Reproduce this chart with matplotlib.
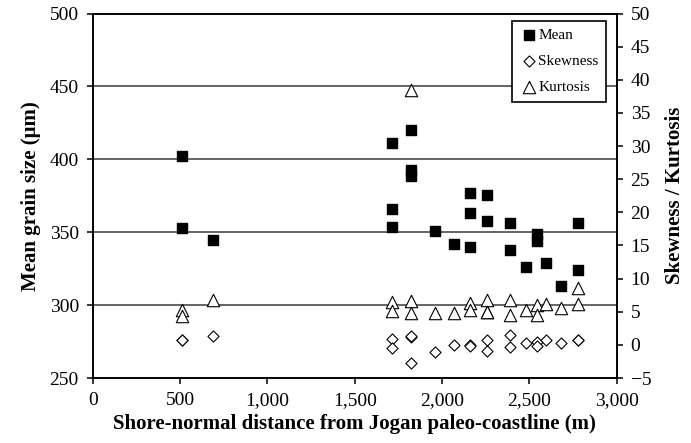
import matplotlib
matplotlib.use("Agg")
import matplotlib.pyplot as plt

plt.rcParams['font.family'] = ['Liberation Serif', 'DejaVu Serif']

# distancias (m) y valores
mean_x = [510, 510, 690, 1712, 1712, 1712, 1820, 1820, 1820, 1957, 2068,
          2162, 2162, 2162, 2255, 2255, 2388, 2388, 2478, 2544, 2544, 2593, 2680, 2778, 2778]
mean_y = [402, 353, 345, 411, 366, 353.5, 420, 392.5, 388.5, 350.5, 342,
          377, 363, 340, 375.5, 357.5, 356, 338, 326, 349, 344, 329, 313, 356.5, 324]

skew_x = [510, 510, 690, 1712, 1712, 1820, 1820, 1820, 1957, 2068, 2162, 2162,
          2255, 2255, 2388, 2388, 2478, 2544, 2544, 2593, 2680, 2778, 2778]
skew_y = [0.8, 0.7, 1.3, 0.9, -0.4, 1.2, 1.4, -2.7, -1.0, 0.0, 0.0, -0.1,
          0.8, -0.9, 1.5, -0.3, 0.3, 0.5, -0.2, 0.7, 0.3, 0.8, 0.7]

kurt_x = [510, 510, 690, 1712, 1712, 1820, 1820, 1820, 1957, 2068, 2162, 2162,
          2255, 2255, 2255, 2388, 2388, 2478, 2544, 2544, 2593, 2680, 2778, 2778]
kurt_y = [5.3, 4.4, 6.8, 6.4, 5.1, 38.5, 6.6, 4.8, 4.8, 4.8, 6.3, 5.3,
          6.7, 5.0, 4.9, 6.8, 4.5, 5.3, 6.0, 4.5, 6.2, 5.5, 8.6, 6.2]

fig = plt.figure(figsize=(6.91, 4.43), dpi=100)
ax = fig.add_axes([0.1342, 0.1467, 0.7583, 0.8228])
ax2 = ax.twinx()

ax.set_xlim(0, 3000)
ax.set_ylim(250, 500)
ax2.set_ylim(-5, 50)
ax.set_xticks(range(0, 3001, 500))
ax.set_xticklabels(['0', '500', '1,000', '1,500', '2,000', '2,500', '3,000'])
ax.set_yticks(range(250, 501, 50))
ax2.set_yticks(range(-5, 51, 5))

for y in [300, 350, 400, 450]:
    ax.axhline(y, color='#3a3a3a', lw=1.1, zorder=0)

for a in (ax, ax2):
    for s in a.spines.values():
        s.set_linewidth(1.2)
ax.tick_params(direction='out', labelsize=14, length=4, width=1.1, pad=6)
ax2.tick_params(direction='out', labelsize=14, length=4, width=1.1, pad=6)

h1 = ax.scatter(mean_x, mean_y, marker='s', s=50, color='black', zorder=3, label='Mean')
h2 = ax2.scatter(skew_x, skew_y, marker='D', s=32, facecolor='white', edgecolor='black',
                 linewidth=0.8, zorder=3, label='Skewness')
h3 = ax2.scatter(kurt_x, kurt_y, marker='^', s=80, facecolor='white', edgecolor='black',
                 linewidth=0.8, zorder=3, label='Kurtosis')

ax.set_xlabel('Shore-normal distance from Jogan paleo-coastline (m)', fontsize=15,
              fontweight='bold', labelpad=4)
ax.set_ylabel('Mean grain size (μm)', fontsize=15, fontweight='bold', labelpad=6)
ax2.set_ylabel('Skewness / Kurtosis', fontsize=15, fontweight='bold', labelpad=10)

leg = ax2.legend(handles=[h1, h2, h3], loc='upper right', bbox_to_anchor=(0.98, 0.98),
                 fontsize=11, frameon=True, fancybox=False, edgecolor='black',
                 handletextpad=0.0, borderpad=0.5, labelspacing=0.8, handlelength=1.2,
                 borderaxespad=0.0, framealpha=1)
leg.get_frame().set_linewidth(1.2)

fig.savefig('out.png', dpi=100)
